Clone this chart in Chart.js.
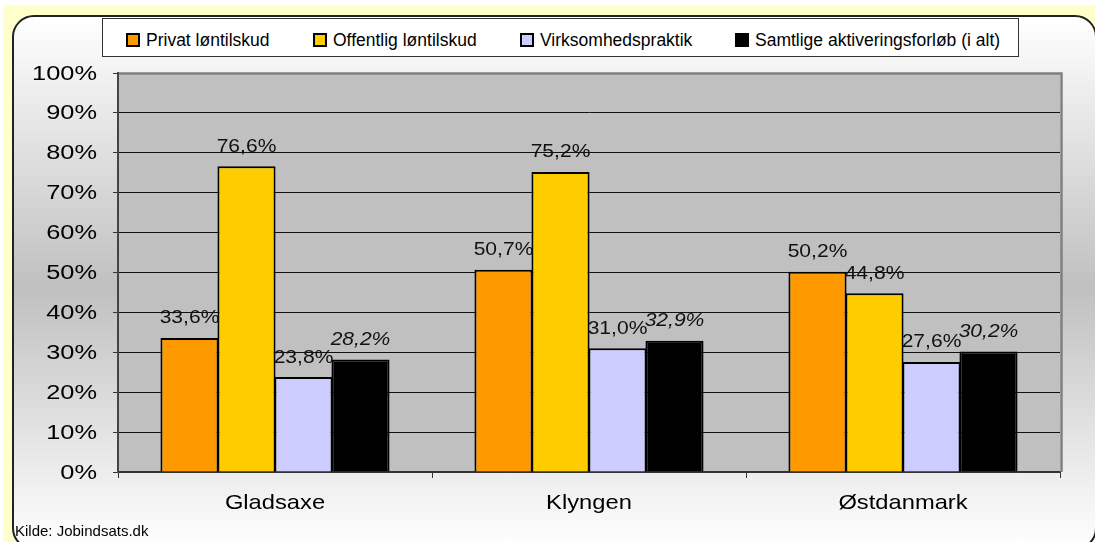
<!DOCTYPE html>
<html lang="da">
<head>
<meta charset="utf-8">
<script src="https://cdn.jsdelivr.net/npm/chart.js@4/dist/chart.umd.min.js"></script>
<style>
  body { margin: 0; background: #fff; }
  #wrap { position: relative; width: 1095px; height: 542px; overflow: hidden; background: #fff;
          font-family: "Liberation Sans", Arial, sans-serif; }
  #gul { position: absolute; left: 3px; top: 5px; right: 0; bottom: 0; background: #ffffcc; }
  #panel { position: absolute; left: 12px; top: 15px; width: 1081px; height: 531px;
           border: 2px solid #222; border-radius: 22px;
           background: linear-gradient(to bottom, #ffffff 0%, #c0c0c0 51%, #ffffff 100%); }
  #graf { position: absolute; left: 0; top: 0; }
  #legend { position: absolute; left: 102px; top: 18px; width: 915px; height: 37px;
            background: #fff; border: 1px solid #333; }
  .item { position: absolute; top: 12px; height: 18px; display: flex; align-items: center;
          font-size: 17.5px; line-height: 18px; white-space: nowrap; color: #000; }
  .swatch { width: 14px; height: 14px; box-sizing: border-box; border: 2px solid #000; margin-right: 6px; }
  #kilde { position: absolute; left: 15px; top: 523px; font-size: 15px; line-height: 15px; color: #000; }
</style>
</head>
<body>
<div id="wrap">
  <div id="gul"></div>
  <div id="panel"></div>
  <canvas id="graf" width="1095" height="542"></canvas>
  <div id="legend"></div>
  <div id="kilde">Kilde: Jobindsats.dk</div>
</div>
<script>
const omraader = ['Gladsaxe', 'Klyngen', 'Østdanmark'];

const privatLoentilskud    = [33.6, 50.7, 50.2];
const offentligLoentilskud = [76.6, 75.2, 44.8];
const virksomhedspraktik   = [23.8, 31.0, 27.6];
const samtligeForloeb      = [28.2, 32.9, 30.2];

const serieNavne = ['Privat løntilskud', 'Offentlig løntilskud', 'Virksomhedspraktik', 'Samtlige aktiveringsforløb (i alt)'];
const serieFarver = ['#ff9900', '#ffcc00', '#ccccff', '#000000'];
const legendX = [23, 210, 417, 632];

const FONT = '"Liberation Sans", Arial, sans-serif';
const procent = v => v.toFixed(1).replace('.', ',') + '%';

// legend som html-boks over grafen
const legend = document.getElementById('legend');
serieNavne.forEach((navn, i) => {
    const el = document.createElement('div');
    el.className = 'item';
    el.style.left = legendX[i] + 'px';
    el.innerHTML = '<span class="swatch" style="background:' + serieFarver[i] + '"></span>' + navn;
    legend.appendChild(el);
});

// grå plotflade og ramme
const plotFlade = {
    id: 'plotFlade',
    beforeDraw(chart) {
        const { ctx, chartArea: a } = chart;
        ctx.save();
        ctx.fillStyle = '#c0c0c0';
        ctx.fillRect(a.left, a.top, a.right - a.left, a.bottom - a.top);
        ctx.restore();
    },
    beforeDatasetsDraw(chart) {
        const { ctx, chartArea: a } = chart;
        ctx.save();
        ctx.strokeStyle = '#808080';
        ctx.lineWidth = 2.5;
        ctx.beginPath();
        ctx.moveTo(a.left + 1, a.top + 0.5);
        ctx.lineTo(a.right + 1.5, a.top + 0.5);
        ctx.lineTo(a.right + 1.5, a.bottom);
        ctx.stroke();
        ctx.restore();
    }
};

// aksetekster og værdier over søjlerne (lidt bredt strakt skrift)
const tekster = {
    id: 'tekster',
    afterDraw(chart) {
        const ctx = chart.ctx;
        const y = chart.scales.y, x = chart.scales.x;
        ctx.save();
        ctx.fillStyle = '#000';

        ctx.font = '20px ' + FONT;
        ctx.textAlign = 'right';
        ctx.textBaseline = 'middle';
        y.ticks.forEach((t, i) => {
            ctx.save();
            ctx.translate(97, y.getPixelForTick(i) + 1);
            ctx.scale(1.27, 1);
            ctx.fillText(t.value + '%', 0, 0);
            ctx.restore();
        });

        ctx.font = '21px ' + FONT;
        ctx.textAlign = 'center';
        x.ticks.forEach((t, i) => {
            ctx.save();
            ctx.translate(x.getPixelForTick(i), 503);
            ctx.scale(1.13, 1);
            ctx.fillText(omraader[i], 0, 0);
            ctx.restore();
        });

        ctx.fillStyle = '#111';
        ctx.textBaseline = 'alphabetic';
        chart.data.datasets.forEach((ds, i) => {
            ctx.font = (i === 3 ? 'italic ' : '') + '18px ' + FONT;
            chart.getDatasetMeta(i).data.forEach((bar, j) => {
                ctx.save();
                ctx.translate(bar.x, bar.y - 14.5);
                ctx.scale(1.17, 1);
                ctx.fillText(procent(ds.data[j]), 0, 0);
                ctx.restore();
            });
        });
        ctx.restore();
    }
};

const serier = [privatLoentilskud, offentligLoentilskud, virksomhedspraktik, samtligeForloeb];

new Chart(document.getElementById('graf'), {
    type: 'bar',
    data: {
        labels: omraader,
        datasets: serier.map((data, i) => ({
            label: serieNavne[i],
            data: data,
            backgroundColor: serieFarver[i],
            borderColor: '#000',
            borderWidth: 2,
            categoryPercentage: 0.726,
            barPercentage: 1.02
        }))
    },
    options: {
        responsive: false,
        animation: false,
        devicePixelRatio: 1,
        layout: { padding: { left: 0, top: 73, right: 35, bottom: 0 } },
        plugins: { legend: { display: false }, tooltip: { enabled: false } },
        scales: {
            x: {
                grid: { drawOnChartArea: false, offset: true, tickLength: 6, color: '#333' },
                border: { color: '#333', width: 2 },
                ticks: { color: 'rgba(0,0,0,0)', font: { size: 21 } },
                afterFit: s => { s.height = 70; }
            },
            y: {
                min: 0,
                max: 100,
                ticks: { stepSize: 10, color: 'rgba(0,0,0,0)', font: { size: 20 }, padding: 16 },
                grid: { color: '#111', lineWidth: 1, tickLength: 5, tickColor: '#333' },
                border: { color: '#444', width: 2 },
                afterFit: s => { s.width = 118; }
            }
        }
    },
    plugins: [plotFlade, tekster]
});
</script>
</body>
</html>
